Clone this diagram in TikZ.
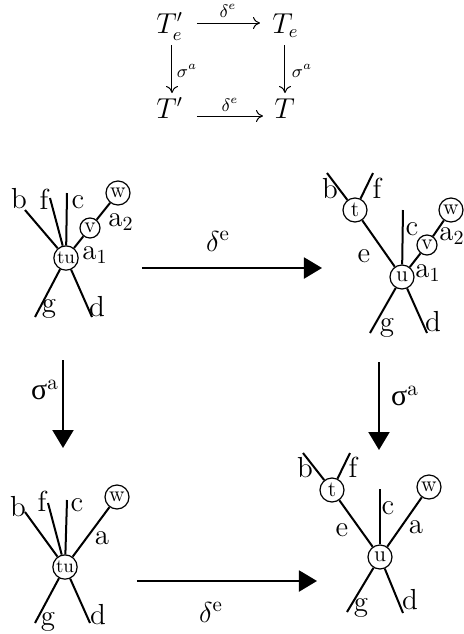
\documentclass[tikz,border=0pt]{standalone}
\usepackage{fontspec}
\newfontfamily\grk{Liberation Serif}
\usetikzlibrary{arrows.meta}
\begin{document}
\begin{tikzpicture}[x=0.5pt,y=-0.5pt,
  vtx/.style={circle,draw,line width=0.6pt,fill=white,inner sep=0.5pt,minimum size=12pt,font=\fontsize{11}{12}\selectfont},
  vsmall/.style={vtx,minimum size=10pt},
  tusty/.style={vtx,font=\fontsize{9.5}{10}\selectfont},
  lbl/.style={font=\fontsize{14.5}{16}\selectfont,inner sep=0pt},
  edge/.style={line width=1pt},
  bigarrow/.style={line width=1pt,-{Triangle[length=9pt,width=10.5pt]}},
  biglbl/.style={font=\fontsize{15}{18}\selectfont,inner sep=0pt},
  cd/.style={font=\fontsize{13.5}{15}\selectfont,inner sep=0pt},
  cdlbl/.style={font=\fontsize{9}{10}\selectfont,inner sep=0pt},
  cdarrow/.style={line width=0.5pt,-{To[length=3.5pt,width=6pt]}}]
\useasboundingbox (0,0) rectangle (464,634);

% ---------- commutative square ----------
\node[cd,anchor=base west] (Tep) at (156,33) {$T'_e$};
\node[cd,anchor=base west] (Te)  at (272,33) {$T_e$};
\node[cd,anchor=base west] (Tp)  at (156,118) {$T'$};
\node[cd,anchor=base west] (T)   at (274,118) {$T$};
\coordinate (h1a) at (197,23);  \coordinate (h1b) at (260,23);
\coordinate (h2a) at (197,116); \coordinate (h2b) at (263,116);
\coordinate (v1a) at (172,45);  \coordinate (v1b) at (172,93);
\coordinate (v2a) at (285,45);  \coordinate (v2b) at (285,93);
\draw[cdarrow] (h1a) -- (h1b);
\draw[cdarrow] (h2a) -- (h2b);
\draw[cdarrow] (v1a) -- (v1b);
\draw[cdarrow] (v2a) -- (v2b);
\node[cdlbl] (l1) at (228,11) {$\delta^e$};
\node[cdlbl] (l2) at (230,105) {$\delta^e$};
\node[cdlbl] (l3) at (187,71) {$\sigma^a$};
\node[cdlbl] (l4) at (302,71) {$\sigma^a$};

% ---------- tree 1 (top left) ----------
\node[tusty] (tuA) at (66,258) {tu};
\node[vsmall] (vA) at (90,228) {v};
\node[vtx] (wA) at (118,193) {w};
\coordinate (bA) at (25,210);
\coordinate (fA) at (50,198);
\coordinate (cA) at (67,193);
\coordinate (gA) at (35,317);
\coordinate (dA) at (92,317);
\draw[edge] (tuA) -- (bA);
\draw[edge] (tuA) -- (fA);
\draw[edge] (tuA) -- (cA);
\draw[edge] (tuA) -- (gA);
\draw[edge] (tuA) -- (dA);
\draw[edge] (tuA) -- (vA);
\draw[edge] (vA) -- (wA);
\node[lbl] (lbA) at (19,199) {b};
\node[lbl] (lfA) at (44,199) {f};
\node[lbl] (lcA) at (78,202) {c};
\node[lbl] (la1A) at (95,255) {a$_1$};
\node[lbl] (la2A) at (121,222) {a$_2$};
\node[lbl] (lgA) at (49,309) {g};
\node[lbl] (ldA) at (97,307) {d};

% ---------- tree 2 (top right) ----------
\node[vtx] (tB) at (355,210) {t};
\node[vtx] (uB) at (402,277) {u};
\node[vsmall] (vB) at (427,245) {v};
\node[vtx] (wB) at (451,210) {w};
\coordinate (bB) at (327,173);
\coordinate (fB) at (373,173);
\coordinate (cB) at (403,210);
\coordinate (gB) at (370,333);
\coordinate (dB) at (427,333);
\draw[edge] (tB) -- (bB);
\draw[edge] (tB) -- (fB);
\draw[edge] (tB) -- (uB);
\draw[edge] (uB) -- (cB);
\draw[edge] (uB) -- (gB);
\draw[edge] (uB) -- (dB);
\draw[edge] (uB) -- (vB);
\draw[edge] (vB) -- (wB);
\node[lbl] (lbB) at (330,189) {b};
\node[lbl] (lfB) at (377,188) {f};
\node[lbl] (leB) at (364,256) {e};
\node[lbl] (lcB) at (412,229) {c};
\node[lbl] (la1B) at (428,273) {a$_1$};
\node[lbl] (la2B) at (452,236) {a$_2$};
\node[lbl] (lgB) at (387,328) {g};
\node[lbl] (ldB) at (433,322) {d};

% ---------- tree 3 (bottom left) ----------
\node[tusty] (tuC) at (65,567) {tu};
\node[vtx] (wC) at (117,497) {w};
\coordinate (bC) at (25,512);
\coordinate (fC) at (48,503);
\coordinate (cC) at (67,500);
\coordinate (gC) at (35,623);
\coordinate (dC) at (90,623);
\draw[edge] (tuC) -- (bC);
\draw[edge] (tuC) -- (fC);
\draw[edge] (tuC) -- (cC);
\draw[edge] (tuC) -- (gC);
\draw[edge] (tuC) -- (dC);
\draw[edge] (tuC) -- (wC);
\node[lbl] (lbC) at (18,507) {b};
\node[lbl] (lfC) at (42,501) {f};
\node[lbl] (lcC) at (77,505) {c};
\node[lbl] (laC) at (102,538) {a};
\node[lbl] (lgC) at (48,622) {g};
\node[lbl] (ldC) at (98,615) {d};

% ---------- tree 4 (bottom right) ----------
\node[vtx] (tD) at (332,490) {t};
\node[vtx] (uD) at (380,557) {u};
\node[vtx] (wD) at (429,487) {w};
\coordinate (bD) at (303,453);
\coordinate (fD) at (350,453);
\coordinate (cD) at (380,489);
\coordinate (gD) at (347,612);
\coordinate (dD) at (403,613);
\draw[edge] (tD) -- (bD);
\draw[edge] (tD) -- (fD);
\draw[edge] (tD) -- (uD);
\draw[edge] (uD) -- (cD);
\draw[edge] (uD) -- (gD);
\draw[edge] (uD) -- (dD);
\draw[edge] (uD) -- (wD);
\node[lbl] (lbD) at (305,468) {b};
\node[lbl] (lfD) at (353,467) {f};
\node[lbl] (leD) at (342,530) {e};
\node[lbl] (lcD) at (388,508) {c};
\node[lbl] (laD) at (416,527) {a};
\node[lbl] (lgD) at (361,608) {g};
\node[lbl] (ldD) at (410,600) {d};

% ---------- big arrows ----------
\coordinate (A1) at (142,268); \coordinate (A2) at (322,268);
\coordinate (B1) at (137,581); \coordinate (B2) at (317,581);
\coordinate (C1) at (63,360);  \coordinate (C2) at (63,448);
\coordinate (D1) at (379,362); \coordinate (D2) at (379,450);
\draw[bigarrow] (A1) -- (A2);
\draw[bigarrow] (B1) -- (B2);
\draw[bigarrow] (C1) -- (C2);
\draw[bigarrow] (D1) -- (D2);
\node[biglbl] (LA) at (218,241) {$\delta^{\mathrm{e}}$};
\node[biglbl] (LB) at (211,612) {$\delta^{\mathrm{e}}$};
\node[biglbl] (LC) at (45,390) {{\grk σ}$^{\mathrm{a}}$};
\node[biglbl] (LD) at (405,396) {{\grk σ}$^{\mathrm{a}}$};
\end{tikzpicture}
\end{document}
